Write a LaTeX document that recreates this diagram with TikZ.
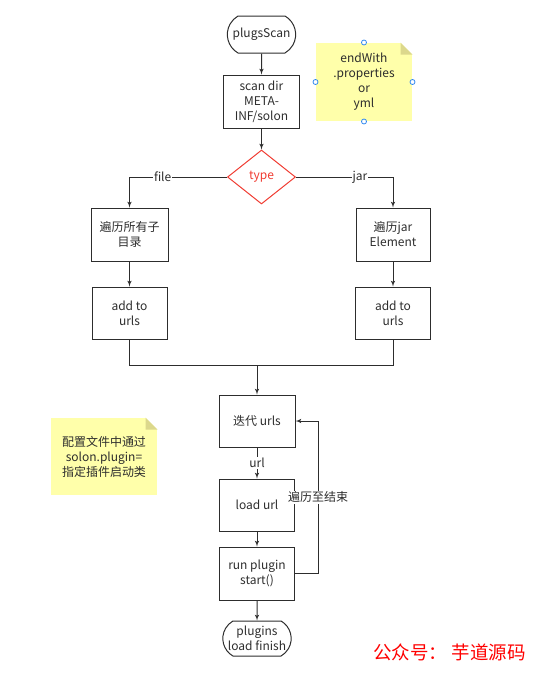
\documentclass[tikz,border=0pt]{standalone}
\usepackage{fontspec}
\setmainfont{Noto Sans CJK SC}
\usepackage{tikz}
\usetikzlibrary{shapes.geometric, shapes.misc, arrows, positioning}
\definecolor{linegray}{RGB}{45,45,45}
\definecolor{notefill}{RGB}{255,255,170}
\definecolor{notefold}{RGB}{220,216,140}
\definecolor{handleblue}{RGB}{45,135,240}
\definecolor{typered}{RGB}{240,60,50}

\begin{document}
\begin{tikzpicture}[node distance=21pt, >=latex', line width=1pt, color=linegray,
    font=\fontsize{12}{15}\selectfont,
    startstop/.style={draw, rounded rectangle, rounded rectangle arc length=120, minimum width=75pt, minimum height=37pt, align=center},
    process/.style={draw, rectangle, minimum width=76pt, minimum height=53pt, align=center},
    decision/.style={draw=typered, diamond, aspect=1.26, minimum width=68pt, minimum height=54pt, inner sep=0pt, text=typered},
    note/.style={fill=notefill, minimum width=96pt, minimum height=78pt, align=center},
    lbl/.style={fill=white, inner sep=1pt}]

    \useasboundingbox (0,0) rectangle (540pt,-673pt);

    % Nodes
    \node (start) [startstop] at (261.5pt,-34.5pt) {plugsScan};
    \node (scan) [process, below=of start] {scan dir\\META-\\INF/solon};
    \node (type) [decision, below=of scan] {type};
    \node (dirs) [process, minimum width=77pt, below=3pt of type, xshift=-132pt] {遍历所有子\\目录};
    \node (jarel) [process, minimum width=74pt, below=3pt of type, xshift=131.5pt] {遍历jar\\Element};
    \node (addl) [process, minimum width=75pt, minimum height=52pt, below=25pt of dirs] {add to\\urls};
    \node (addr) [process, minimum width=75pt, minimum height=52pt, below=25pt of jarel] {add to\\urls};
    \node (iter) [process, minimum height=52pt] at (257pt,-421pt) {迭代 urls};
    \node (load) [process, minimum width=75pt, minimum height=52pt, below=31pt of iter] {load url};
    \node (run) [process, minimum width=75pt, below=15pt of load] {run plugin\\start()};
    \node (finish) [startstop, minimum height=35pt, below=20pt of run] {plugins\\load finish};

    % Notes
    \node (ext) [note] at (364pt,-82pt) {endWith\\.properties\\or\\yml};
    \node (cfg) [note, minimum width=106pt, minimum height=77pt] at (104pt,-456.5pt) {配置文件中通过\\solon.plugin=\\指定插件启动类};
    \foreach \n in {ext, cfg} {
        \fill[white] (\n.north east) -- ++(-12pt,0) -- ++(12pt,-12pt) -- cycle;
        \fill[notefold] ([xshift=-12pt]\n.north east) -- ++(0,-12pt) -- ++(12pt,0) -- cycle;
    }
    \foreach \a in {north, south, east, west}
        \draw[handleblue, fill=white, line width=0.8pt] (ext.\a) circle (2.5pt);

    \node (mark) [text=red, font=\fontsize{18.5}{22}\selectfont] at (449.5pt,-652pt) {公众号：\ 芋道源码};

    % Links
    \draw[->] (start) -- (scan);
    \draw[->] (scan) -- (type);
    \draw[->] (type) -| node[lbl, pos=0.33] {file} (dirs);
    \draw[->] (type) -| node[lbl, pos=0.33] {jar} (jarel);
    \draw[->] (dirs) -- (addl);
    \draw[->] (jarel) -- (addr);
    \coordinate (merge) at ([yshift=29pt]iter.north);
    \draw (addl) |- (merge) -| (addr);
    \draw[->] (merge) -- (iter);
    \draw[->] (iter) -- node[lbl] {url} (load);
    \draw[->] (load) -- (run);
    \draw[->] (run) -- (finish);
    \draw[->] (run.east) -- ++(23pt,0) |- node[lbl, pos=0.25] {遍历至结束} (iter.east);
\end{tikzpicture}
\end{document}
